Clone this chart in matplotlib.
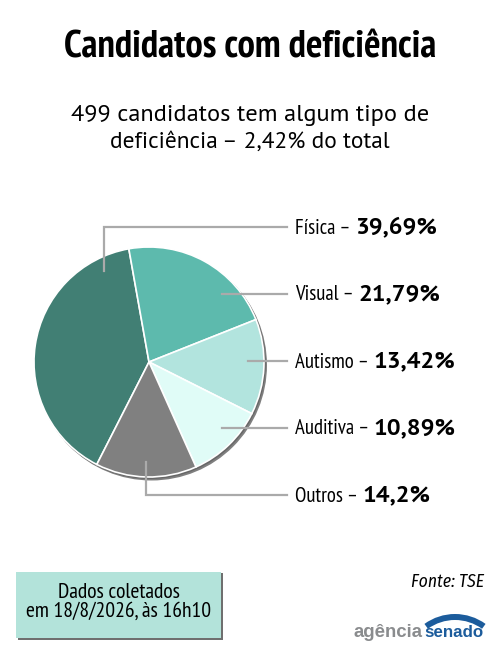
import numpy as np
import matplotlib.pyplot as plt
from matplotlib.patches import Circle, Rectangle, Wedge

# data
categories = ['Física', 'Visual', 'Autismo', 'Auditiva', 'Outros']
values = [39.69, 21.79, 13.42, 10.89, 14.2]
value_labels = ['39,69%', '21,79%', '13,42%', '10,89%', '14,2%']
colors = ['#417f74', '#5dbaad', '#b2e4de', '#e0fcf7', '#808080']

title = 'Candidatos com deficiência'
subtitle = ['499 candidatos tem algum tipo de', 'deficiência – 2,42% do total']
note = ['Dados coletados', 'em 18/8/2026, às 16h10']
source = 'Fonte: TSE'

W, H = 500, 661
NARROW = ['PT Sans Narrow', 'Fira Sans Condensed', 'Roboto Condensed', 'DejaVu Sans']
ITALIC = ['Fira Sans Condensed', 'Roboto Condensed', 'Noto Sans', 'DejaVu Sans']
WIDE = ['PT Sans', 'Noto Sans', 'DejaVu Sans']
LOGO = ['Liberation Sans', 'DejaVu Sans']

fig = plt.figure(figsize=(W / 100, H / 100), dpi=100)
ax = fig.add_axes([0, 0, 1, 1])
renderer = fig.canvas.get_renderer()


def Y(y):
    # image pixel row -> data y
    return H - y


def fit(t, width):
    # scale a text's font size so it spans the given pixel width
    w = t.get_window_extent(renderer).width
    t.set_fontsize(t.get_fontsize() * width / w)
    return t


# pie
cx, cy, R = 149, Y(362), 115
ax.add_patch(Circle((cx + 2.5, cy - 3), R + 0.5, color='#000000', alpha=0.5, lw=0, zorder=1))
ax.add_patch(Circle((cx + 1.2, cy - 1.5), R + 0.5, color='#444444', alpha=0.4, lw=0, zorder=1))
wedges, _ = ax.pie(values, colors=colors, startangle=243, counterclock=False,
                   center=(cx, cy), radius=R, frame=True,
                   wedgeprops=dict(edgecolor='white', linewidth=1.2))
for w in wedges:
    w.set_zorder(2)
ax.set_xlim(0, W)
ax.set_ylim(0, H)
ax.set_aspect('equal')
ax.axis('off')

# titles
fit(ax.text(250, Y(48), title, ha='center', va='center', fontsize=23,
            fontweight='bold', family=NARROW), 372)
for line, yy, wd in zip(subtitle, [116, 142], [356, 280]):
    fit(ax.text(250, Y(yy), line, ha='center', va='center', fontsize=14.5,
                family=WIDE), wd)

# leader lines: (anchor x, anchor y) and label rows
line_col = '#aaaaaa'
label_rows = [227, 294, 361, 428, 495]
anchors = [(104, 271), (222, 294), (248, 361), (222, 428), (146, 462)]
x_end = 287
for (axx, ayy), ry in zip(anchors, label_rows):
    ax.plot([axx, axx, x_end], [Y(ayy), Y(ry), Y(ry)], color=line_col, lw=1.6,
            solid_joinstyle='miter', zorder=3)

# labels: one common size for the names, scaled on their total width
names = [ax.text(295, Y(ry + 1), cat + ' – ', ha='left', va='center', fontsize=16,
                 family=NARROW) for cat, ry in zip(categories, label_rows)]
total = sum(t.get_window_extent(renderer).width for t in names)
fs = 16 * 349 / total
vfs = None
for t, vl, ry in zip(names, value_labels, label_rows):
    t.set_fontsize(fs)
    bb = t.get_window_extent(renderer)
    v = ax.text(bb.x1, Y(ry + 1), vl, ha='left', va='center', fontsize=15,
                fontweight='bold', family=WIDE)
    if vfs is None:
        fit(v, 82)
        vfs = v.get_fontsize()
    v.set_fontsize(vfs)

# note box
ax.add_patch(Rectangle((18, Y(640)), 205, 67, color='#6f6f6f', lw=0, zorder=1))
ax.add_patch(Rectangle((16, Y(638)), 205, 66, facecolor='#b3e3da', lw=0, zorder=2))
t2 = fit(ax.text(118.5, Y(611), note[1], ha='center', va='center', fontsize=13.5,
                 family=NARROW, zorder=3), 185)
ax.text(118.5, Y(592), note[0], ha='center', va='center', fontsize=t2.get_fontsize(),
        family=NARROW, zorder=3)

fit(ax.text(484, Y(582), source, ha='right', va='center', fontsize=13.5,
            style='italic', family=ITALIC), 73)

# logo
fit(ax.text(423, Y(637), 'agência', ha='right', va='baseline', fontsize=13.5,
            fontweight='bold', color='#8a8c8e', family=LOGO), 69)
fit(ax.text(424, Y(637), 'senado', ha='left', va='baseline', fontsize=13.5,
            fontweight='bold', color='#1c5c9c', family=LOGO), 59)
ax.add_patch(Wedge((455, Y(666)), 52, 54, 126, width=6, color='#1c5c9c', lw=0))

fig.savefig('out.png', dpi=100, facecolor='white')
